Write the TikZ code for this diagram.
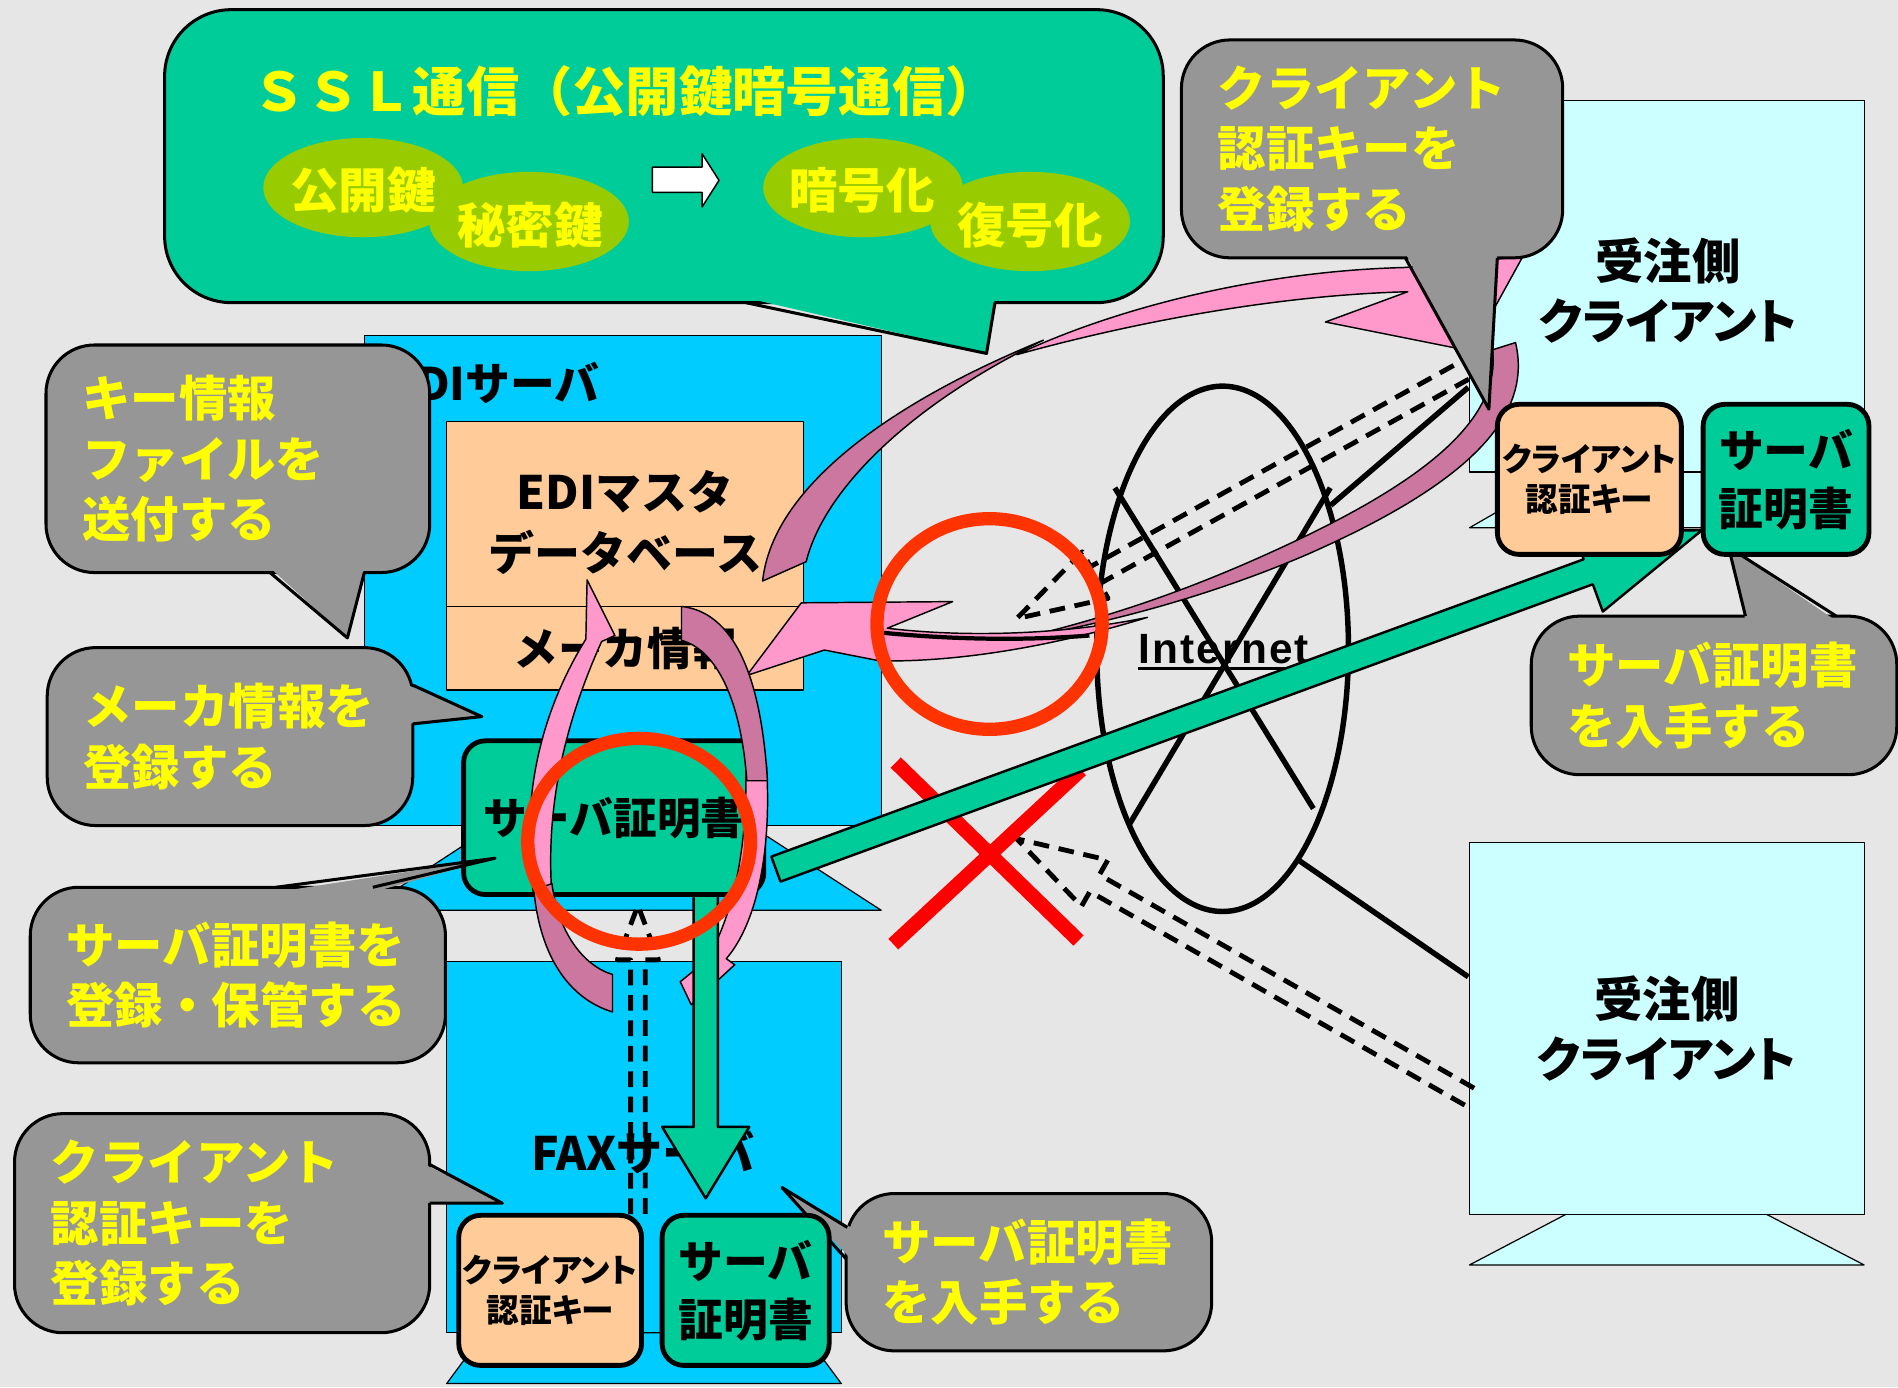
\documentclass[tikz,border=0pt]{standalone}
\usepackage{fontspec}
\setmainfont{Noto Sans CJK JP}
\newfontfamily\jpprop{Noto Sans CJK JP}[RawFeature=+palt]
\newfontfamily\inetfont{Liberation Sans}[LetterSpace=5]
\usetikzlibrary{shapes.geometric, calc, positioning}

\definecolor{bggray}{RGB}{230,230,230}
\definecolor{sslgreen}{RGB}{0,204,153}
\definecolor{keyolive}{RGB}{153,204,0}
\definecolor{callgray}{RGB}{150,150,150}
\definecolor{textyellow}{RGB}{255,255,0}
\definecolor{servercyan}{RGB}{0,204,255}
\definecolor{clientcyan}{RGB}{204,255,255}
\definecolor{keyorange}{RGB}{255,204,153}
\definecolor{pinklight}{RGB}{255,153,204}
\definecolor{pinkdark}{RGB}{204,119,160}
\definecolor{ringred}{RGB}{255,51,0}

\begin{document}
\begin{tikzpicture}[x=1pt, y=-1pt, line join=round]

% Define block styles
\tikzstyle{server} = [rectangle, draw=black, line width=1, fill=servercyan, inner sep=0]
\tikzstyle{client} = [rectangle, draw=black, line width=1, fill=clientcyan, inner sep=0, align=center, font=\jpprop\bfseries\fontsize{40}{50}\selectfont]
\tikzstyle{stand} = [draw=black, line width=1]
\tikzstyle{infobox} = [rectangle, draw=black, line width=1, fill=keyorange, inner sep=0, align=center, font=\bfseries\fontsize{38}{50}\selectfont]
\tikzstyle{keybox} = [rectangle, rounded corners=18, draw=black, line width=4, fill=keyorange, inner sep=0, align=center, font=\jpprop\bfseries\fontsize{27}{33}\selectfont]
\tikzstyle{certbox} = [rectangle, rounded corners=18, draw=black, line width=4, fill=sslgreen, inner sep=0, align=center, font=\bfseries\fontsize{37}{48}\selectfont]
\tikzstyle{callout} = [rectangle, rounded corners=40, draw=black, line width=2.5, fill=callgray, text=textyellow, inner xsep=30, inner ysep=0, align=left, font=\bfseries\fontsize{40}{50}\selectfont]
\tikzstyle{tail} = [draw=black, line width=2.5]
\tikzstyle{keyoval} = [ellipse, fill=keyolive, inner sep=0, minimum width=165, minimum height=82]
\tikzstyle{ovaltext} = [text=textyellow, inner sep=0, font=\bfseries\fontsize{40}{40}\selectfont]
\tikzstyle{label} = [inner sep=0, font=\bfseries\fontsize{37}{40}\selectfont]
\tikzstyle{netline} = [draw=black, line width=4.5]
\tikzstyle{dashline} = [draw=black, line width=4, dash pattern=on 13pt off 8pt]
\tikzstyle{greenarrow} = [fill=sslgreen, draw=black, line width=2]
\tikzstyle{pinkfill} = [fill=pinklight, draw=black, line width=1.2]
\tikzstyle{mauvefill} = [fill=pinkdark, draw=black, line width=1.2]
\tikzstyle{ring} = [draw=ringred, line width=11]
\tikzstyle{cross} = [draw=red, line width=12]

\useasboundingbox (0,0) rectangle (1568,1146);
\fill[bggray] (0,0) rectangle (1568,1146);

% SSL bubble
\node[rectangle, rounded corners=55, draw=black, line width=2.5, fill=sslgreen, minimum width=825, minimum height=242] (ssl) at (548.5,129) {};
\fill[sslgreen] (616,246) -- (815,292) -- (822,246) -- cycle;
\draw[tail] (616,250) -- (815,292) -- (822,250);
\node[keyoval] (pubkey) at (300,155) {};
\node[keyoval] (privkey) at (437,183) {};
\node[keyoval] (encrypt) at (713,155) {};
\node[keyoval] (decrypt) at (851,183) {};
\node[ovaltext] (pubkeytxt) at (300,157) {公開鍵};
\node[ovaltext] (privkeytxt) at (438,186) {秘密鍵};
\node[ovaltext] (encrypttxt) at (712,157) {暗号化};
\node[ovaltext] (decrypttxt) at (851,186) {復号化};
\filldraw[fill=white, draw=black, line width=1.2] (539,138) -- (580,138) -- (580,127) -- (594,149) -- (580,171) -- (580,159) -- (539,159) -- cycle;
\node[text=textyellow, inner sep=0, font=\bfseries\fontsize{44}{44}\selectfont] (ssltitle) at (517,75) {ＳＳＬ通信（公開鍵暗号通信）};

% servers and clients
\filldraw[stand, fill=servercyan] (408,682) -- (620,682) -- (728,752) -- (301,752) -- cycle;
\node[server, minimum width=427, minimum height=405] (edi) at (514.5,479.5) {};
\node[label, anchor=west] (editxt) at (321,316) {EDIサーバ};
\node[infobox, minimum width=295, minimum height=167] (dbbox) at (516.5,431.5) {EDIマスタ\\データベース};
\node[infobox, minimum width=295, minimum height=69, below=15 of dbbox, font=\bfseries\fontsize{37}{40}\selectfont] (makerbox) {メーカ情報};
\node[certbox, minimum width=248, minimum height=127, font=\bfseries\fontsize{36}{40}\selectfont] (edicert) at (507,675.5) {サーバ証明書};

\filldraw[stand, fill=servercyan] (400,1101) -- (664,1101) -- (695,1143) -- (369,1143) -- cycle;
\node[server, minimum width=326, minimum height=307] (fax) at (532,947.5) {};
\node[label, font=\bfseries\fontsize{38}{40}\selectfont] (faxtxt) at (531,952) {FAXサーバ};

\filldraw[stand, fill=clientcyan] (1294,390) -- (1459,390) -- (1540,436) -- (1214,436) -- cycle;
\node[client, minimum width=326, minimum height=307] (client1) at (1377,236.5) {};
\node[inner sep=0, align=center, font=\jpprop\bfseries\fontsize{40}{50}\selectfont] (client1txt) at (1378,240) {受注側\\クライアント};
\filldraw[stand, fill=clientcyan] (1294,1003) -- (1459,1003) -- (1540,1045) -- (1214,1045) -- cycle;
\node[client, minimum width=326, minimum height=307] (client2) at (1377,849.5) {受注側\\クライアント};

% internet
\node[ellipse, draw=black, line width=4.5, inner sep=0, minimum width=208, minimum height=434] (inet) at (1010,536) {};
\draw[netline] (921,403) -- (1085,668);
\draw[netline] (1099,403) -- (933,681);
\node[inner sep=0, anchor=base, font=\inetfont\bfseries\fontsize{35}{35}\selectfont] (inettxt) at (1011,548) {Internet};
\draw[line width=2.5] ([yshift=-4pt]inettxt.base west) -- ([yshift=-4pt]inettxt.base east);
\coordinate (c1in) at (1213,320);
\coordinate (c2in) at (1213,807);
\draw[netline] (inet.53) -- (c1in);
\draw[netline] (inet.-70) -- (c2in);

% dashed replies from the clients
\coordinate (d1tail) at (1228,296);
\coordinate (d1tip) at (840,511);
\coordinate (d1head) at ($(d1tip)!74pt!(d1tail)$);
\draw[dashline] ($(d1tail)!8pt!90:(d1tip)$) -- ($(d1head)!8pt!90:(d1tip)$) -- ($(d1head)!22pt!90:(d1tip)$) -- (d1tip) -- ($(d1head)!22pt!-90:(d1tip)$) -- ($(d1head)!8pt!-90:(d1tip)$) -- ($(d1tail)!8pt!-90:(d1tip)$);
\coordinate (d2tail) at (1214,906);
\coordinate (d2tip) at (840,693);
\coordinate (d2head) at ($(d2tip)!74pt!(d2tail)$);
\draw[dashline] ($(d2tail)!8pt!90:(d2tip)$) -- ($(d2head)!8pt!90:(d2tip)$) -- ($(d2head)!22pt!90:(d2tip)$) -- (d2tip) -- ($(d2head)!22pt!-90:(d2tip)$) -- ($(d2head)!8pt!-90:(d2tip)$) -- ($(d2tail)!8pt!-90:(d2tip)$);
\coordinate (d3tail) at (527,1003);
\coordinate (d3tip) at (527,748);
\coordinate (d3head) at ($(d3tip)!45pt!(d3tail)$);
\draw[dashline] ($(d3tail)!6pt!90:(d3tip)$) -- ($(d3head)!6pt!90:(d3tip)$) -- ($(d3head)!17pt!90:(d3tip)$) -- (d3tip) -- ($(d3head)!17pt!-90:(d3tip)$) -- ($(d3head)!6pt!-90:(d3tip)$) -- ($(d3tail)!6pt!-90:(d3tip)$);

% blocked path
\draw[cross] (740,630) -- (891,777);
\draw[cross] (738,780) -- (893,636);

% pink arrows
\filldraw[pinkfill] (840,293) .. controls (920,255) and (1040,224) .. (1160,221) -- (1258,212) -- (1215,290) -- (1095,266) -- (1163,241) .. controls (1050,244) and (930,268) .. (840,293) -- cycle;
\filldraw[mauvefill] (630,480) .. controls (638,405) and (730,335) .. (862,281) .. controls (760,330) and (682,400) .. (666,464) -- cycle;
\filldraw[mauvefill] (1233,289) -- (1252,283) .. controls (1268,350) and (1200,405) .. (1080,458) .. controls (1010,488) and (930,512) .. (840,528) .. controls (930,507) and (1000,480) .. (1070,447) .. controls (1180,395) and (1240,345) .. (1233,289) -- cycle;
\filldraw[pinkfill] (948,510) .. controls (880,531) and (800,547) .. (727,546) -- (681,537) -- (617,558) -- (662,498) -- (787,497) -- (733,519) .. controls (800,527) and (880,524) .. (948,510) -- cycle;
\draw[line width=3.5] (722,522) .. controls (790,529) and (850,529) .. (900,525);
\filldraw[pinkfill] (441,740) .. controls (428,650) and (452,580) .. (484,528) -- (485,479) -- (508,525) -- (497,530) .. controls (470,590) and (450,660) .. (456,740) -- cycle;
\filldraw[mauvefill] (506,805) -- (506,836) .. controls (470,825) and (446,790) .. (441,735) -- (456,730) .. controls (461,770) and (482,798) .. (506,805) -- cycle;
\filldraw[pinkfill] (633,630) .. controls (638,700) and (626,762) .. (600,792) -- (607,797) -- (571,830) -- (562,811) -- (584,793) .. controls (606,755) and (618,700) .. (616,630) -- cycle;
\filldraw[mauvefill] (563,529) -- (563,501) .. controls (600,505) and (628,545) .. (634,645) -- (617,645) .. controls (612,578) and (592,537) .. (563,529) -- cycle;

% green arrows: certificate delivery
\coordinate (g1tail) at (641,718);
\coordinate (g1tip) at (1406,438);
\coordinate (g1head) at ($(g1tip)!100pt!(g1tail)$);
\filldraw[greenarrow] ($(g1tail)!11pt!90:(g1tip)$) -- ($(g1head)!11pt!90:(g1tip)$) -- ($(g1head)!35pt!90:(g1tip)$) -- (g1tip) -- ($(g1head)!35pt!-90:(g1tip)$) -- ($(g1head)!11pt!-90:(g1tip)$) -- ($(g1tail)!11pt!-90:(g1tip)$) -- cycle;
\coordinate (g2tail) at (583,740);
\coordinate (g2tip) at (583,990);
\coordinate (g2head) at ($(g2tip)!59pt!(g2tail)$);
\filldraw[greenarrow] ($(g2tail)!10pt!90:(g2tip)$) -- ($(g2head)!10pt!90:(g2tip)$) -- ($(g2head)!36pt!90:(g2tip)$) -- (g2tip) -- ($(g2head)!36pt!-90:(g2tip)$) -- ($(g2head)!10pt!-90:(g2tip)$) -- ($(g2tail)!10pt!-90:(g2tip)$) -- cycle;

% red rings
\draw[ring] (817.5,515.5) ellipse [x radius=93, y radius=87];
\draw[ring] (528,695) ellipse [x radius=92, y radius=85];

% grey bubbles
\node[callout, minimum width=317, minimum height=188, text width=257] (keyfile) at (196.5,379) {キー情報\\ファイルを\\送付する};
\fill[callgray] (223,469) -- (287,527) -- (301,469) -- cycle;
\draw[tail] (223,473) -- (287,527) -- (301,473);

\node[callout, minimum width=302, minimum height=147, text width=242] (makerreg) at (190,608.5) {メーカ情報を\\登録する};
\fill[callgray] (337,566) -- (398,592) -- (337,598) -- cycle;
\draw[tail] (341,566) -- (398,592) -- (341,598);

\node[callout, minimum width=343, minimum height=145, text width=283] (certreg) at (196.5,805.5) {サーバ証明書を\\登録・保管する};
\fill[callgray] (228,737) -- (409,709) -- (308,737) -- cycle;
\draw[tail] (228,733) -- (409,709) -- (308,733);

\node[callout, minimum width=343, minimum height=181, text width=283] (clientreg) at (183.5,1010.5) {クライアント\\認証キーを\\登録する};
\fill[callgray] (351,962) -- (415,994) -- (351,994) -- cycle;
\draw[tail] (355,962) -- (415,994) -- (355,994);

\node[callout, minimum width=315, minimum height=180, text width=255] (topreg) at (1133.5,123) {クライアント\\認証キーを\\登録する};
\fill[callgray] (1161,209) -- (1230,338) -- (1237,209) -- cycle;
\draw[tail] (1161,213) -- (1230,338) -- (1237,213);

\node[callout, minimum width=302, minimum height=131, text width=242] (certget) at (1416,574.5) {サーバ証明書\\を入手する};
\fill[callgray] (1442,513) -- (1428,452) -- (1517,513) -- cycle;
\draw[tail] (1442,509) -- (1428,452) -- (1517,509);

\node[callout, minimum width=302, minimum height=130, text width=242] (faxget) at (850,1051) {サーバ証明書\\を入手する};
\fill[callgray] (703,1014) -- (646,981) -- (703,1040) -- cycle;
\draw[tail] (700,1014) -- (646,981) -- (699,1040);

% key and certificate boxes
\node[keybox, minimum width=152, minimum height=124] (topkey) at (1313,396) {クライアント\\認証キー};
\node[certbox, minimum width=137, minimum height=124, right=14 of topkey] (topcert) {サーバ\\証明書};
\node[keybox, minimum width=151, minimum height=124] (faxkey) at (454.5,1066) {クライアント\\認証キー};
\node[certbox, minimum width=138, minimum height=124, right=13 of faxkey] (faxcert) {サーバ\\証明書};

\end{tikzpicture}
\end{document}
